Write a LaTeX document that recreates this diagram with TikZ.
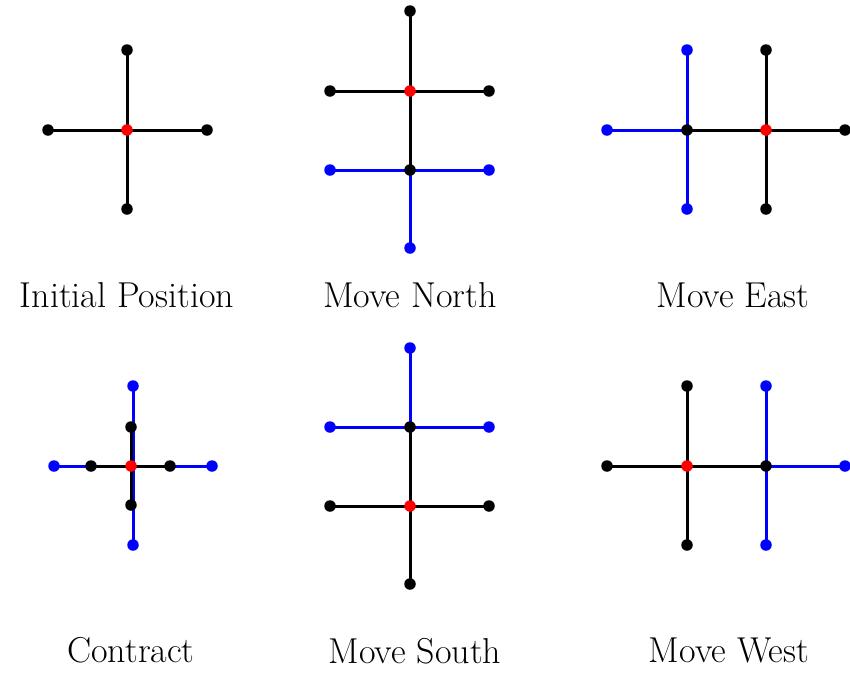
\documentclass[tikz,border=0pt]{standalone}
\begin{document}
\begin{tikzpicture}[x=1pt,y=-1pt,
  kline/.style={draw=black,line width=3pt},
  bline/.style={draw=blue,line width=3pt},
  kdot/.style={circle,fill=black,inner sep=0pt,minimum size=11.5pt},
  bdot/.style={circle,fill=blue,inner sep=0pt,minimum size=11.5pt},
  rdot/.style={circle,fill=red,inner sep=0pt,minimum size=11.5pt},
  lbl/.style={anchor=base,inner sep=0pt,font=\fontsize{36}{42}\selectfont}]
\useasboundingbox[fill=white] (0,0) rectangle (850,673);

% ---- Panel 1: Initial Position
\coordinate (p1c) at (127,130);
\coordinate (p1t) at (127,50);
\coordinate (p1b) at (127,209);
\coordinate (p1l) at (48,130);
\coordinate (p1r) at (207,130);
\draw[kline] (p1t) -- (p1b);
\draw[kline] (p1l) -- (p1r);
\node[kdot] (d1t) at (p1t) {};
\node[kdot] (d1b) at (p1b) {};
\node[kdot] (d1l) at (p1l) {};
\node[kdot] (d1r) at (p1r) {};
\node[rdot] (d1c) at (p1c) {};
\node[lbl] (t1) at (127,307) {Initial Position};

% ---- Panel 2: Move North
\coordinate (p2c) at (410,91);
\coordinate (p2t) at (410,11);
\coordinate (p2l) at (330,91);
\coordinate (p2r) at (489,91);
\coordinate (p2o) at (410,170);
\coordinate (p2ol) at (330,170);
\coordinate (p2or) at (489,170);
\coordinate (p2ob) at (410,248);
\draw[bline] (p2ol) -- (p2or);
\draw[bline] (p2c) -- (p2ob);
\draw[kline] (p2t) -- (p2o);
\draw[kline] (p2l) -- (p2r);
\node[bdot] (d2ol) at (p2ol) {};
\node[bdot] (d2or) at (p2or) {};
\node[bdot] (d2ob) at (p2ob) {};
\node[kdot] (d2o) at (p2o) {};
\node[kdot] (d2t) at (p2t) {};
\node[kdot] (d2l) at (p2l) {};
\node[kdot] (d2r) at (p2r) {};
\node[rdot] (d2c) at (p2c) {};
\node[lbl] (t2) at (410,307) {Move North};

% ---- Panel 3: Move East
\coordinate (p3o) at (687,130);
\coordinate (p3ot) at (687,50);
\coordinate (p3ob) at (687,209);
\coordinate (p3ol) at (607,130);
\coordinate (p3c) at (766,130);
\coordinate (p3t) at (766,50);
\coordinate (p3b) at (766,209);
\coordinate (p3r) at (845,130);
\draw[bline] (p3ot) -- (p3ob);
\draw[bline] (p3ol) -- (p3c);
\draw[kline] (p3t) -- (p3b);
\draw[kline] (p3o) -- (p3r);
\node[bdot] (d3ot) at (p3ot) {};
\node[bdot] (d3ob) at (p3ob) {};
\node[bdot] (d3ol) at (p3ol) {};
\node[kdot] (d3o) at (p3o) {};
\node[kdot] (d3t) at (p3t) {};
\node[kdot] (d3b) at (p3b) {};
\node[kdot] (d3r) at (p3r) {};
\node[rdot] (d3c) at (p3c) {};
\node[lbl] (t3) at (733,307) {Move East};

% ---- Panel 4: Contract
\coordinate (p4o) at (133,466);
\coordinate (p4ot) at (133,386);
\coordinate (p4ob) at (133,545);
\coordinate (p4ol) at (54,466);
\coordinate (p4or) at (212,466);
\coordinate (p4c) at (131,466);
\coordinate (p4t) at (131,427);
\coordinate (p4b) at (131,505);
\coordinate (p4l) at (91,466);
\coordinate (p4r) at (170,466);
\draw[bline] (p4ot) -- (p4ob);
\draw[bline] (p4ol) -- (p4or);
\draw[kline] (p4t) -- (p4b);
\draw[kline] (p4l) -- (p4r);
\node[bdot] (d4ot) at (p4ot) {};
\node[bdot] (d4ob) at (p4ob) {};
\node[bdot] (d4ol) at (p4ol) {};
\node[bdot] (d4or) at (p4or) {};
\node[kdot] (d4t) at (p4t) {};
\node[kdot] (d4b) at (p4b) {};
\node[kdot] (d4l) at (p4l) {};
\node[kdot] (d4r) at (p4r) {};
\node[rdot] (d4c) at (p4c) {};
\node[lbl] (t4) at (131,662) {Contract};

% ---- Panel 5: Move South
\coordinate (p5o) at (410,427);
\coordinate (p5ot) at (410,348);
\coordinate (p5ol) at (330,427);
\coordinate (p5or) at (489,427);
\coordinate (p5c) at (410,506);
\coordinate (p5l) at (330,506);
\coordinate (p5r) at (489,506);
\coordinate (p5b) at (410,584);
\draw[bline] (p5ol) -- (p5or);
\draw[bline] (p5ot) -- (p5c);
\draw[kline] (p5o) -- (p5b);
\draw[kline] (p5l) -- (p5r);
\node[bdot] (d5ot) at (p5ot) {};
\node[bdot] (d5ol) at (p5ol) {};
\node[bdot] (d5or) at (p5or) {};
\node[kdot] (d5o) at (p5o) {};
\node[kdot] (d5l) at (p5l) {};
\node[kdot] (d5r) at (p5r) {};
\node[kdot] (d5b) at (p5b) {};
\node[rdot] (d5c) at (p5c) {};
\node[lbl] (t5) at (415,663) {Move South};

% ---- Panel 6: Move West
\coordinate (p6c) at (687,466);
\coordinate (p6t) at (687,386);
\coordinate (p6b) at (687,545);
\coordinate (p6l) at (607,466);
\coordinate (p6o) at (766,466);
\coordinate (p6ot) at (766,386);
\coordinate (p6ob) at (766,545);
\coordinate (p6or) at (845,466);
\draw[bline] (p6ot) -- (p6ob);
\draw[bline] (p6c) -- (p6or);
\draw[kline] (p6t) -- (p6b);
\draw[kline] (p6l) -- (p6o);
\node[bdot] (d6ot) at (p6ot) {};
\node[bdot] (d6ob) at (p6ob) {};
\node[bdot] (d6or) at (p6or) {};
\node[kdot] (d6o) at (p6o) {};
\node[kdot] (d6t) at (p6t) {};
\node[kdot] (d6b) at (p6b) {};
\node[kdot] (d6l) at (p6l) {};
\node[rdot] (d6c) at (p6c) {};
\node[lbl] (t6) at (729,662) {Move West};
\end{tikzpicture}
\end{document}
